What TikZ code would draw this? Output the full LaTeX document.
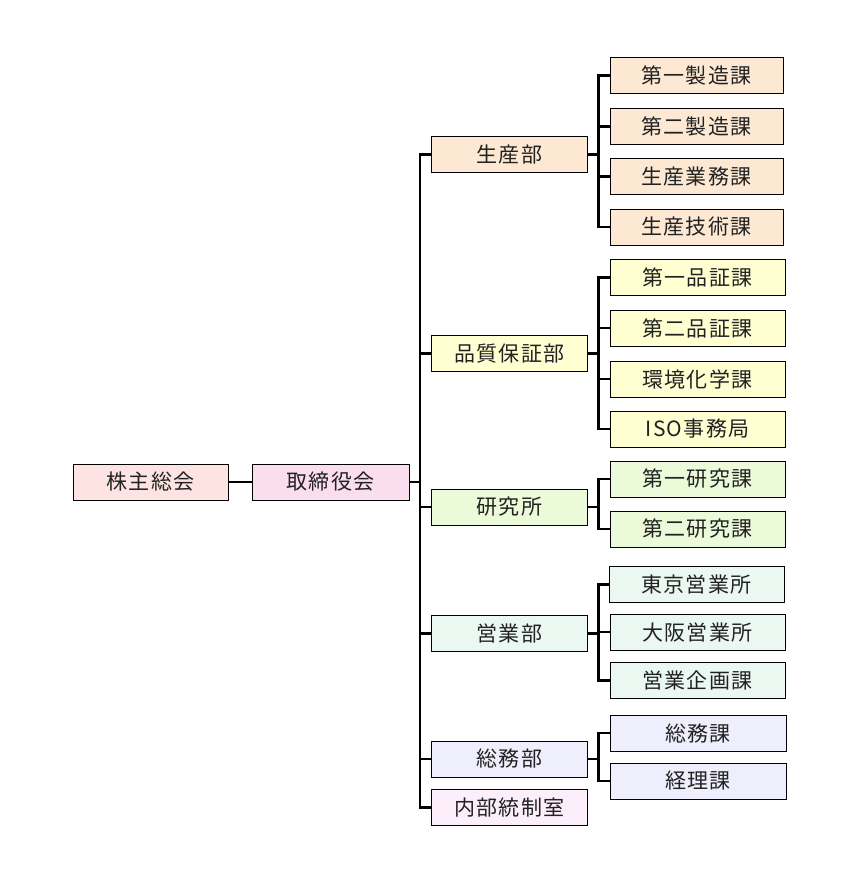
\documentclass[tikz,border=0pt]{standalone}
\usepackage{fontspec}
\newfontfamily\jpfont[LetterSpace=6]{Noto Sans CJK JP}
\definecolor{cKabu}{HTML}{FDE4E2}
\definecolor{cTori}{HTML}{FBDDF0}
\definecolor{cSei}{HTML}{FDE9D3}
\definecolor{cHin}{HTML}{FFFFD2}
\definecolor{cKen}{HTML}{EBFAD9}
\definecolor{cEig}{HTML}{EBF8F1}
\definecolor{cSou}{HTML}{EEEEFC}
\definecolor{cNai}{HTML}{FCEEFA}
\definecolor{txt}{HTML}{222222}
\tikzset{
  box/.style={draw=black, line width=0.9pt, minimum height=36, inner sep=0pt,
    font=\jpfont\fontsize{21}{24}\selectfont, text=txt},
  top/.style={box, minimum width=155},
  dept/.style={box, minimum width=156},
  sect/.style={box, minimum width=175},
  conn/.style={draw=black, line width=2.2pt, line join=miter}
}
\begin{document}
\begin{tikzpicture}[x=1pt,y=-1pt]
\useasboundingbox (0,0) rectangle (849,892);
% top
\node[top, fill=cKabu] (kabu) at (150.5,482) {株主総会};
\node[top, fill=cTori, minimum width=157] (tori) at (330.5,482) {取締役会};
% departments
\node[dept, fill=cSei] (sei) at (509.5,154.5) {生産部};
\node[dept, fill=cHin] (hin) at (509.5,353.5) {品質保証部};
\node[dept, fill=cKen] (ken) at (509.5,507) {研究所};
\node[dept, fill=cEig] (eig) at (509.5,633.5) {営業部};
\node[dept, fill=cSou] (sou) at (509.5,759) {総務部};
\node[dept, fill=cNai] (nai) at (509.5,807.5) {内部統制室};
% sections
\node[sect, fill=cSei, minimum width=173] (s1) at (696.5,75.5) {第一製造課};
\node[sect, fill=cSei, minimum width=173] (s2) at (696.5,126.5) {第二製造課};
\node[sect, fill=cSei, minimum width=173] (s3) at (696.5,176.5) {生産業務課};
\node[sect, fill=cSei, minimum width=173] (s4) at (696.5,227) {生産技術課};
\node[sect, fill=cHin] (h1) at (697.5,277.5) {第一品証課};
\node[sect, fill=cHin] (h2) at (697.5,328) {第二品証課};
\node[sect, fill=cHin] (h3) at (697.5,379) {環境化学課};
\node[sect, fill=cHin] (h4) at (697.5,429) {ISO事務局};
\node[sect, fill=cKen] (k1) at (697.5,479) {第一研究課};
\node[sect, fill=cKen] (k2) at (697.5,529) {第二研究課};
\node[sect, fill=cEig] (e1) at (696.5,584.5) {東京営業所};
\node[sect, fill=cEig] (e2) at (697.5,632) {大阪営業所};
\node[sect, fill=cEig] (e3) at (697.5,680.5) {営業企画課};
\node[sect, fill=cSou, minimum width=176] (g1) at (698,733) {総務課};
\node[sect, fill=cSou, minimum width=176] (g2) at (698,781) {経理課};
% connectors
\draw[conn] (kabu.east) -- (tori.west);
\draw[conn] (tori.east) -- ++(11,0);
\draw[conn] (sei.west) -- ++(-11,0) |- (nai.west);
\foreach \n in {hin,ken,eig,sou} \draw[conn] (\n.west) -- ++(-11,0);
% sub brackets
\draw[conn] (sei.east) -- ++(12,0);
\draw[conn] (s1.west) -- ++(-11,0) |- (s4.west);
\foreach \n in {s2,s3} \draw[conn] (\n.west) -- ++(-11,0);
\draw[conn] (hin.east) -- ++(12,0);
\draw[conn] (h1.west) -- ++(-11,0) |- (h4.west);
\foreach \n in {h2,h3} \draw[conn] (\n.west) -- ++(-11,0);
\draw[conn] (ken.east) -- ++(12,0);
\draw[conn] (k1.west) -- ++(-11,0) |- (k2.west);
\draw[conn] (eig.east) -- ++(12,0);
\draw[conn] (e1.west) -- ++(-10,0) |- (e3.west);
\draw[conn] (e2.west) -- ++(-11,0);
\draw[conn] (sou.east) -- ++(12,0);
\draw[conn] (g1.west) -- ++(-11,0) |- (g2.west);
\end{tikzpicture}
\end{document}
